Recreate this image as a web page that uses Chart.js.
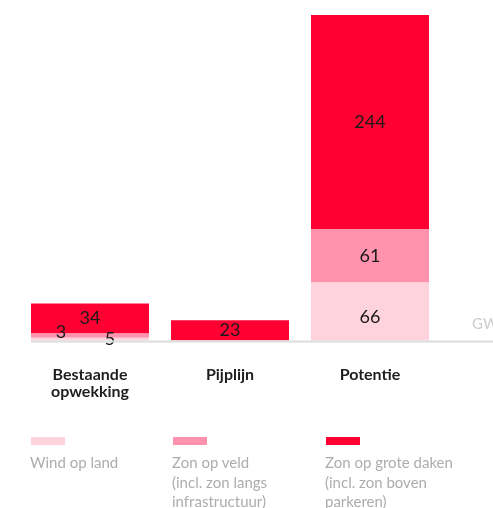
<!DOCTYPE html>
<html lang="nl">
<head>
  <meta charset="UTF-8">
  <title>Opwekking</title>
  <script src="https://cdn.jsdelivr.net/npm/chart.js"></script>
  <style>
    body { margin: 0; background: #fff; font-family: Lato, sans-serif; }
    #wrap { position: relative; width: 493px; height: 448px; }
    .legend { position: absolute; top: 437px; width: 150px; color: #adadad; font-size: 15px; line-height: 19.5px; }
    .legend .box { width: 34px; height: 8px; margin-left: 1px; margin-bottom: 8px; }
  </style>
</head>
<body>
  <div id="wrap"><canvas id="chart"></canvas></div>
  <div class="legend" style="left:30px"><div class="box" style="background:#ffd3dd"></div>Wind op land</div>
  <div class="legend" style="left:172px"><div class="box" style="background:#ff93ad"></div>Zon op veld<br>(incl. zon langs<br>infrastructuur)</div>
  <div class="legend" style="left:325px"><div class="box" style="background:#ff0033"></div>Zon op grote daken<br>(incl. zon boven<br>parkeren)</div>

  <script>
    const categories = [['Bestaande', 'opwekking'], 'Pijplijn', 'Potentie'];
    const windOpLand = [3, 0, 66];
    const zonOpVeld = [5, 0, 61];
    const zonOpDaken = [34, 23, 244];
    const unit = 'GW';

    // small nudges for labels that don't fit inside their segment
    const labelNudge = { '0-0': [-29, -7], '1-0': [20, 4], '0-2': [0, 6] };

    const labelsPlugin = {
      id: 'segLabels',
      afterDatasetsDraw(chart) {
        const ctx = chart.ctx;
        ctx.save();
        ctx.font = '18px Lato';
        ctx.fillStyle = '#1a1a1a';
        ctx.textAlign = 'center';
        ctx.textBaseline = 'middle';
        chart.data.datasets.forEach((ds, di) => {
          chart.getDatasetMeta(di).data.forEach((bar, i) => {
            const v = ds.data[i];
            if (!v) return;
            const n = labelNudge[di + '-' + i] || [0, 0];
            ctx.fillText(v, bar.x + n[0], (bar.y + bar.base) / 2 + n[1]);
          });
        });
        ctx.restore();
      }
    };

    const baselinePlugin = {
      id: 'baseline',
      afterDatasetsDraw(chart) {
        const ctx = chart.ctx;
        const area = chart.chartArea;
        const first = chart.getDatasetMeta(0).data[0];
        ctx.save();
        ctx.strokeStyle = '#dcdcdc';
        ctx.lineWidth = 2;
        ctx.beginPath();
        ctx.moveTo(first.x - first.width / 2, area.bottom + 1);
        ctx.lineTo(chart.width, area.bottom + 1);
        ctx.stroke();
        ctx.font = '15px Lato';
        ctx.fillStyle = '#cccccc';
        ctx.textAlign = 'left';
        ctx.textBaseline = 'alphabetic';
        ctx.fillText(unit, area.right + 32, area.bottom - 11);
        ctx.restore();
      }
    };

    new Chart(document.getElementById('chart'), {
      type: 'bar',
      data: {
        labels: categories,
        datasets: [
          { label: 'Wind op land', data: windOpLand, backgroundColor: '#ffd3dd' },
          { label: 'Zon op veld', data: zonOpVeld, backgroundColor: '#ff93ad' },
          { label: 'Zon op grote daken', data: zonOpDaken, backgroundColor: '#ff0033' }
        ]
      },
      options: {
        responsive: true,
        maintainAspectRatio: false,
        animation: false,
        layout: { padding: { left: 20, right: 53, top: 15, bottom: 22 } },
        datasets: { bar: { barPercentage: 1, categoryPercentage: 118 / 140, borderWidth: 0 } },
        plugins: { legend: { display: false }, tooltip: { enabled: false } },
        scales: {
          x: {
            stacked: true,
            grid: { display: false, drawTicks: false },
            border: { display: false },
            ticks: { padding: 26, color: '#1e1e1e', font: { family: 'Lato', size: 16, weight: 'bold', lineHeight: 1.05 } }
          },
          y: { stacked: true, display: false, min: 0, max: 371 }
        }
      },
      plugins: [labelsPlugin, baselinePlugin]
    });
  </script>
</body>
</html>
